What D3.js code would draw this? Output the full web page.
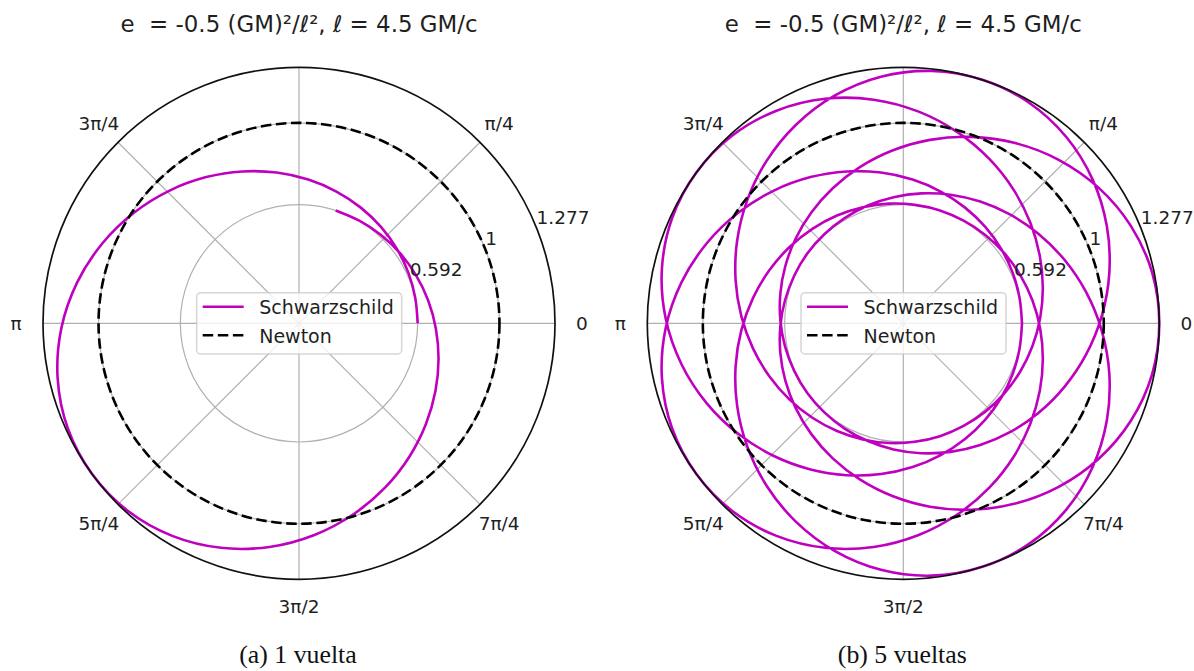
<!DOCTYPE html>
<html>
<head>
<meta charset="utf-8">
<script src="https://cdn.jsdelivr.net/npm/d3@7/dist/d3.min.js"></script>
<style>
  body { margin: 0; background: #ffffff; }
  svg { display: block; }
  .sans { font-family: "DejaVu Sans", sans-serif; fill: #1f1f1f; }
  .serif { font-family: "Liberation Serif", "DejaVu Serif", serif; fill: #111; }
</style>
</head>
<body>
<svg id="chart" width="1194" height="671"></svg>
<script>
// One radial period of the Schwarzschild orbit, measured from perihelion:
// polar angle (degrees) and radius (units of ℓ²/GM).
const periodAngle = [
  0, 12.435, 24.855, 37.248, 49.600, 61.900, 74.140, 86.312, 98.412, 110.438,
  122.390, 134.270, 146.084, 157.836, 169.536, 181.192, 192.814, 204.413, 216.000,
  227.587, 239.186, 250.808, 262.464, 274.164, 285.916, 297.730, 309.610, 321.562,
  333.588, 345.688, 357.860, 370.100, 382.400, 394.752, 407.145, 419.565, 432.000
];
const periodRadius = [
  0.5920, 0.5937, 0.6011, 0.6134, 0.6310, 0.6541, 0.6831, 0.7183, 0.7600, 0.8085,
  0.8636, 0.9247, 0.9904, 1.0585, 1.1252, 1.1858, 1.2348, 1.2668, 1.2770,
  1.2668, 1.2348, 1.1858, 1.1252, 1.0585, 0.9904, 0.9247, 0.8636, 0.8085,
  0.7600, 0.7183, 0.6831, 0.6541, 0.6310, 0.6134, 0.6011, 0.5937, 0.5920
];

// Perihelion direction (degrees) of every traced loop
const loopsOneTurn = [0];
const loopsFiveTurns = [0, 72, 144, 216, 288];

// Newtonian circular orbit radius
const newtonRadius = 1;

// Axis ticks
const gridAngles = [0, 45, 90, 135, 180, 225, 270, 315];
const thetaTickAngles = [0, 45, 135, 180, 225, 270, 315];
const thetaTickLabels = ["0", "π/4", "3π/4", "π", "5π/4", "3π/2", "7π/4"];
const radialTicks = [0.592, 1, 1.277];
const radialTickLabels = ["0.592", "1", "1.277"];
const radialMax = 1.277;

const titleText = "e  = -0.5 (GM)²/ℓ², ℓ = 4.5 GM/c";
const legendLabels = ["Schwarzschild", "Newton"];
const captions = ["(a) 1 vuelta", "(b) 5 vueltas"];

const panels = [
  { cx: 299, loops: loopsOneTurn, caption: captions[0] },
  { cx: 903.3, loops: loopsFiveTurns, caption: captions[1] }
];

const cy = 323.3;
const outerR = 256;
const magenta = "#bf00bf";
const gridColor = "#b0b0b0";
const deg = Math.PI / 180;

const svg = d3.select("#chart");
svg.append("rect").attr("width", 1194).attr("height", 671).attr("fill", "#fff");

const rScale = d3.scaleLinear().domain([0, radialMax]).range([0, outerR]);

const orbitLine = d3.lineRadial()
  .angle(d => Math.PI / 2 - d.theta * deg)
  .radius(d => rScale(d.r))
  .curve(d3.curveCatmullRom.alpha(0.5));

function polarXY(thetaDeg, radiusPx) {
  return [radiusPx * Math.cos(thetaDeg * deg), -radiusPx * Math.sin(thetaDeg * deg)];
}

panels.forEach(p => {
  const g = svg.append("g").attr("transform", `translate(${p.cx},${cy})`);

  // grid: radial spokes and circles
  g.selectAll("line.spoke").data(gridAngles).join("line")
    .attr("class", "spoke")
    .attr("x1", 0).attr("y1", 0)
    .attr("x2", a => polarXY(a, outerR)[0])
    .attr("y2", a => polarXY(a, outerR)[1])
    .attr("stroke", gridColor).attr("stroke-width", 1.2);

  g.selectAll("circle.ring").data(radialTicks.filter(t => t < radialMax)).join("circle")
    .attr("class", "ring")
    .attr("r", t => rScale(t))
    .attr("fill", "none").attr("stroke", gridColor).attr("stroke-width", 1.2);

  // Schwarzschild orbit: successive loops joined into one path
  const pts = [];
  p.loops.forEach((peri, k) => {
    periodAngle.forEach((a, i) => {
      if (k > 0 && i === 0) return;
      pts.push({ theta: peri + a, r: periodRadius[i] });
    });
  });
  g.append("path")
    .attr("d", orbitLine(pts))
    .attr("fill", "none")
    .attr("stroke", magenta)
    .attr("stroke-width", 2.6)
    .attr("stroke-linejoin", "round");

  // Newtonian circular orbit
  g.append("circle")
    .attr("r", rScale(newtonRadius))
    .attr("fill", "none")
    .attr("stroke", "#000")
    .attr("stroke-width", 2.6)
    .attr("stroke-dasharray", "10.5,4.6");

  // outer frame
  g.append("circle")
    .attr("r", rScale(radialMax))
    .attr("fill", "none").attr("stroke", "#111").attr("stroke-width", 1.7);

  // angular tick labels
  g.selectAll("text.theta").data(thetaTickAngles).join("text")
    .attr("class", "theta sans")
    .attr("x", a => polarXY(a, outerR + 27)[0])
    .attr("y", a => polarXY(a, outerR + 27)[1])
    .attr("text-anchor", "middle")
    .attr("dominant-baseline", "central")
    .attr("font-size", 18.5)
    .text((a, i) => thetaTickLabels[i]);

  // radial tick labels along 22.5°
  g.selectAll("text.rlab").data(radialTicks).join("text")
    .attr("class", "rlab sans")
    .attr("x", t => polarXY(22.5, rScale(t))[0] + 1)
    .attr("y", t => polarXY(22.5, rScale(t))[1] - 1.5)
    .attr("font-size", 18.5)
    .text((t, i) => radialTickLabels[i]);

  // legend
  const lg = g.append("g").attr("transform", "translate(-102.3,-30.6)");
  lg.append("rect")
    .attr("width", 205).attr("height", 61.3).attr("rx", 4)
    .attr("fill", "#fff").attr("fill-opacity", 0.8)
    .attr("stroke", "#cccccc").attr("stroke-opacity", 0.8).attr("stroke-width", 1.5);
  lg.append("line")
    .attr("x1", 6).attr("x2", 47).attr("y1", 14).attr("y2", 14)
    .attr("stroke", magenta).attr("stroke-width", 2.6);
  lg.append("line")
    .attr("x1", 6).attr("x2", 47).attr("y1", 42.5).attr("y2", 42.5)
    .attr("stroke", "#000").attr("stroke-width", 2.6).attr("stroke-dasharray", "10.5,4.6");
  lg.selectAll("text").data(legendLabels).join("text")
    .attr("class", "sans")
    .attr("x", 62.5)
    .attr("y", (d, i) => 21.5 + i * 29)
    .attr("font-size", 19)
    .text(d => d);

  // title
  svg.append("text")
    .attr("class", "sans")
    .attr("x", p.cx).attr("y", 32)
    .attr("text-anchor", "middle")
    .attr("font-size", 22.9)
    .style("white-space", "pre")
    .text(titleText);

  // caption
  svg.append("text")
    .attr("class", "serif")
    .attr("x", p.cx - 1).attr("y", 663)
    .attr("text-anchor", "middle")
    .attr("font-size", 25.8)
    .text(p.caption);
});
</script>
</body>
</html>
